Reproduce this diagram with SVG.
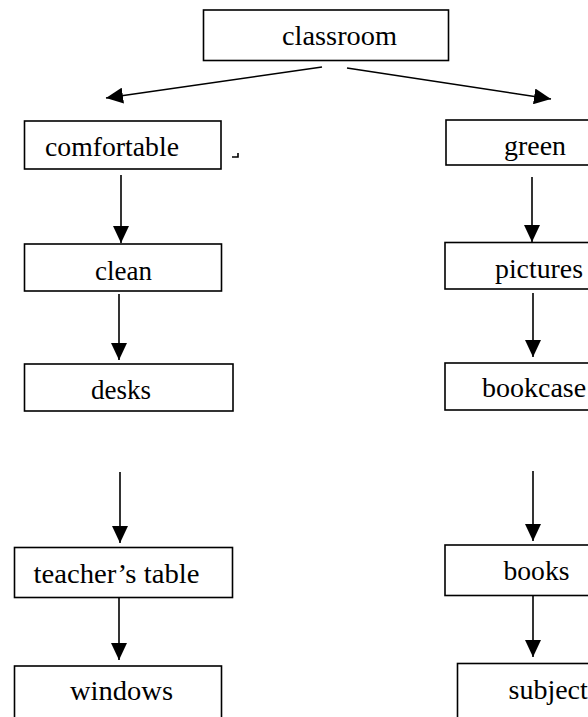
<svg xmlns="http://www.w3.org/2000/svg" width="588" height="717" viewBox="0 0 588 717">
<style>
.box{fill:#fff;stroke:#000;stroke-width:1.6}
.lbl{font-family:"Liberation Serif","Times New Roman",serif;font-size:28px;fill:#000}
.conn{stroke:#000;stroke-width:1.6;fill:none}
</style>
<defs>
<marker id="ah" markerUnits="userSpaceOnUse" markerWidth="18" markerHeight="16" refX="17" refY="8" orient="auto">
<path d="M0 0 L17 8 L0 16 Z" fill="#000"/>
</marker>
</defs>
<rect width="588" height="717" fill="#fff"/>
<g id="connectors">
<line class="conn" x1="322" y1="67" x2="106" y2="98" marker-end="url(#ah)"/>
<line class="conn" x1="347" y1="68" x2="551" y2="99" marker-end="url(#ah)"/>
<line class="conn" x1="121" y1="175" x2="121" y2="243" marker-end="url(#ah)"/>
<line class="conn" x1="119" y1="294" x2="119" y2="360" marker-end="url(#ah)"/>
<line class="conn" x1="120" y1="472" x2="120" y2="543" marker-end="url(#ah)"/>
<line class="conn" x1="119" y1="595" x2="119" y2="660" marker-end="url(#ah)"/>
<line class="conn" x1="532" y1="177" x2="532" y2="242" marker-end="url(#ah)"/>
<line class="conn" x1="533" y1="293" x2="533" y2="357" marker-end="url(#ah)"/>
<line class="conn" x1="533" y1="471" x2="533" y2="541" marker-end="url(#ah)"/>
<line class="conn" x1="533" y1="593" x2="533" y2="657" marker-end="url(#ah)"/>
</g>
<path class="conn" d="M232 157 H238 V153"/>
<g id="classroom">
<rect class="box" x="203.5" y="10" width="245" height="50.5"/>
<text class="lbl" x="282" y="45" textLength="115" lengthAdjust="spacingAndGlyphs">classroom</text>
</g>
<g id="comfortable">
<rect class="box" x="24.5" y="121" width="196.5" height="48"/>
<text class="lbl" x="45" y="156" textLength="134" lengthAdjust="spacingAndGlyphs">comfortable</text>
</g>
<g id="clean">
<rect class="box" x="24.5" y="244" width="197" height="47"/>
<text class="lbl" x="95" y="280" textLength="57" lengthAdjust="spacingAndGlyphs">clean</text>
</g>
<g id="desks">
<rect class="box" x="24.5" y="364" width="208.5" height="47"/>
<text class="lbl" x="91" y="399" textLength="60" lengthAdjust="spacingAndGlyphs">desks</text>
</g>
<g id="teachers-table">
<rect class="box" x="14.5" y="547.5" width="218" height="50"/>
<text class="lbl" x="33.5" y="582.5" textLength="166" lengthAdjust="spacingAndGlyphs">teacher’s table</text>
</g>
<g id="windows">
<rect class="box" x="14.5" y="666" width="207" height="60"/>
<text class="lbl" x="70" y="700" textLength="103" lengthAdjust="spacingAndGlyphs">windows</text>
</g>
<g id="green">
<rect class="box" x="446" y="120" width="150" height="45"/>
<text class="lbl" x="504" y="155" textLength="62" lengthAdjust="spacingAndGlyphs">green</text>
</g>
<g id="pictures">
<rect class="box" x="445" y="242.5" width="150" height="46.5"/>
<text class="lbl" x="495" y="277.5" textLength="88" lengthAdjust="spacingAndGlyphs">pictures</text>
</g>
<g id="bookcase">
<rect class="box" x="445" y="363" width="150" height="47"/>
<text class="lbl" x="482" y="397">bookcase</text>
</g>
<g id="books">
<rect class="box" x="445" y="545" width="150" height="50.5"/>
<text class="lbl" x="503.5" y="579.5" textLength="66" lengthAdjust="spacingAndGlyphs">books</text>
</g>
<g id="subject">
<rect class="box" x="457.5" y="663.5" width="150" height="60"/>
<text class="lbl" x="508.5" y="698.5">subject</text>
</g>
</svg>
